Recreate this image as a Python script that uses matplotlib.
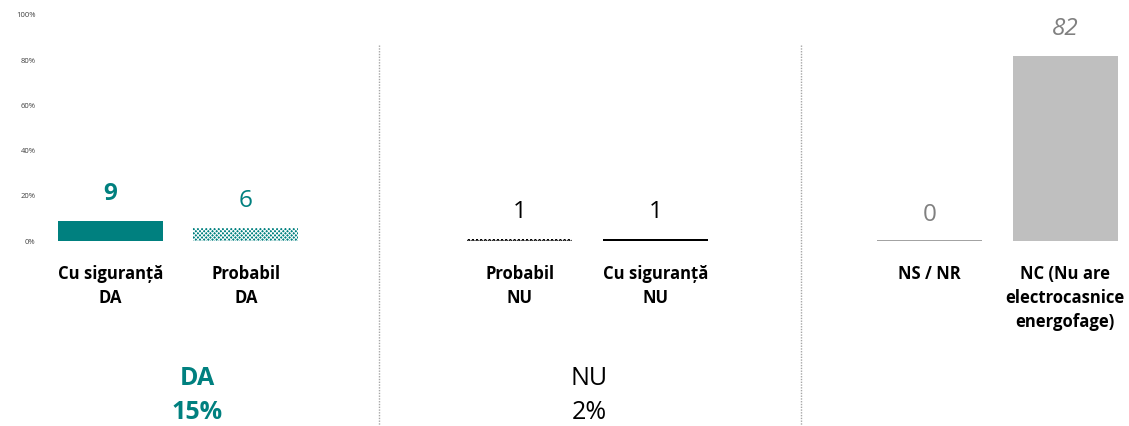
import matplotlib.pyplot as plt

plt.rcParams['font.family'] = ['Open Sans', 'DejaVu Sans']
plt.rcParams['hatch.linewidth'] = 0.7

categories = ['Cu siguranță\nDA', 'Probabil\nDA', 'Probabil\nNU', 'Cu siguranță\nNU',
              'NS / NR', 'NC (Nu are\nelectrocasnice\nenergofage)']
values = [9, 6, 1, 1, 0, 82]
groups = [0, 0, 1, 1, 2, 2]
group_titles = ['DA', 'NU']
group_totals = ['15%', '2%']
yticks = [0, 20, 40, 60, 80, 100]

TEAL = '#00807F'
GREY = '#BFBFBF'

fig = plt.figure(figsize=(11.29, 4.26), dpi=100)
ax = fig.add_axes([0.04, 0.434, 0.96, 0.531])

x = [i + g * 1.02 for i, g in enumerate(groups)]
face = [TEAL, TEAL, 'white', 'black', 'white', GREY]
edge = [TEAL, 'white', 'black', 'black', '#9A9A9A', GREY]
hatch = [None, 'xxxxxxxx', 'xxxxxxxx', None, None, None]
lw = [0, 0, 0, 0, 1.3, 0]

bars = ax.bar(x, values, width=0.775, color=face, edgecolor=edge, linewidth=lw)
for b, h in zip(bars, hatch):
    if h:
        b.set_hatch(h)

# value labels
lab_style = [
    dict(color=TEAL, fontweight='bold', fontstyle='normal'),
    dict(color=TEAL, fontweight='normal', fontstyle='normal'),
    dict(color='black', fontweight='normal', fontstyle='normal'),
    dict(color='black', fontweight='normal', fontstyle='normal'),
    dict(color='#808080', fontweight='normal', fontstyle='normal'),
    dict(color='#808080', fontweight='normal', fontstyle='italic'),
]
for xi, v, st in zip(x, values, lab_style):
    ax.annotate(str(v), (xi, v), xytext=(0, 19), textcoords='offset points',
                ha='center', va='center', fontsize=17.5, clip_on=False, **st)

# category labels under bars
for xi, c in zip(x, categories):
    ax.text(xi, -10.5, c, ha='center', va='top', fontsize=12, fontweight='bold',
            linespacing=1.45, color='black')

# group totals
ax.text(0.64, -60.6, group_titles[0], ha='center', va='center', fontsize=18,
        fontweight='bold', color=TEAL)
ax.text(0.64, -75.7, group_totals[0], ha='center', va='center', fontsize=18,
        fontweight='bold', color=TEAL)
ax.text(3.53, -60.6, group_titles[1], ha='center', va='center', fontsize=18,
        color='black')
ax.text(3.53, -75.7, group_totals[1], ha='center', va='center', fontsize=18,
        color='black')

# dotted separators between groups
for sx in [(x[1] + x[2]) / 2 - 0.03, (x[3] + x[4]) / 2 + 0.06]:
    ax.plot([sx, sx], [86.7, -82], color='#A6A6A6', linestyle=(0, (1, 1)),
            linewidth=1, clip_on=False)

ax.set_xlim(-0.48, 7.51)
ax.set_ylim(0, 100)
ax.set_yticks(yticks)
ax.set_yticklabels([f'{t}%' for t in yticks], fontsize=5.5, color='#404040')
ax.tick_params(axis='y', length=0, pad=7)
ax.set_xticks([])
for s in ax.spines.values():
    s.set_visible(False)

fig.savefig('out.png', dpi=100)
